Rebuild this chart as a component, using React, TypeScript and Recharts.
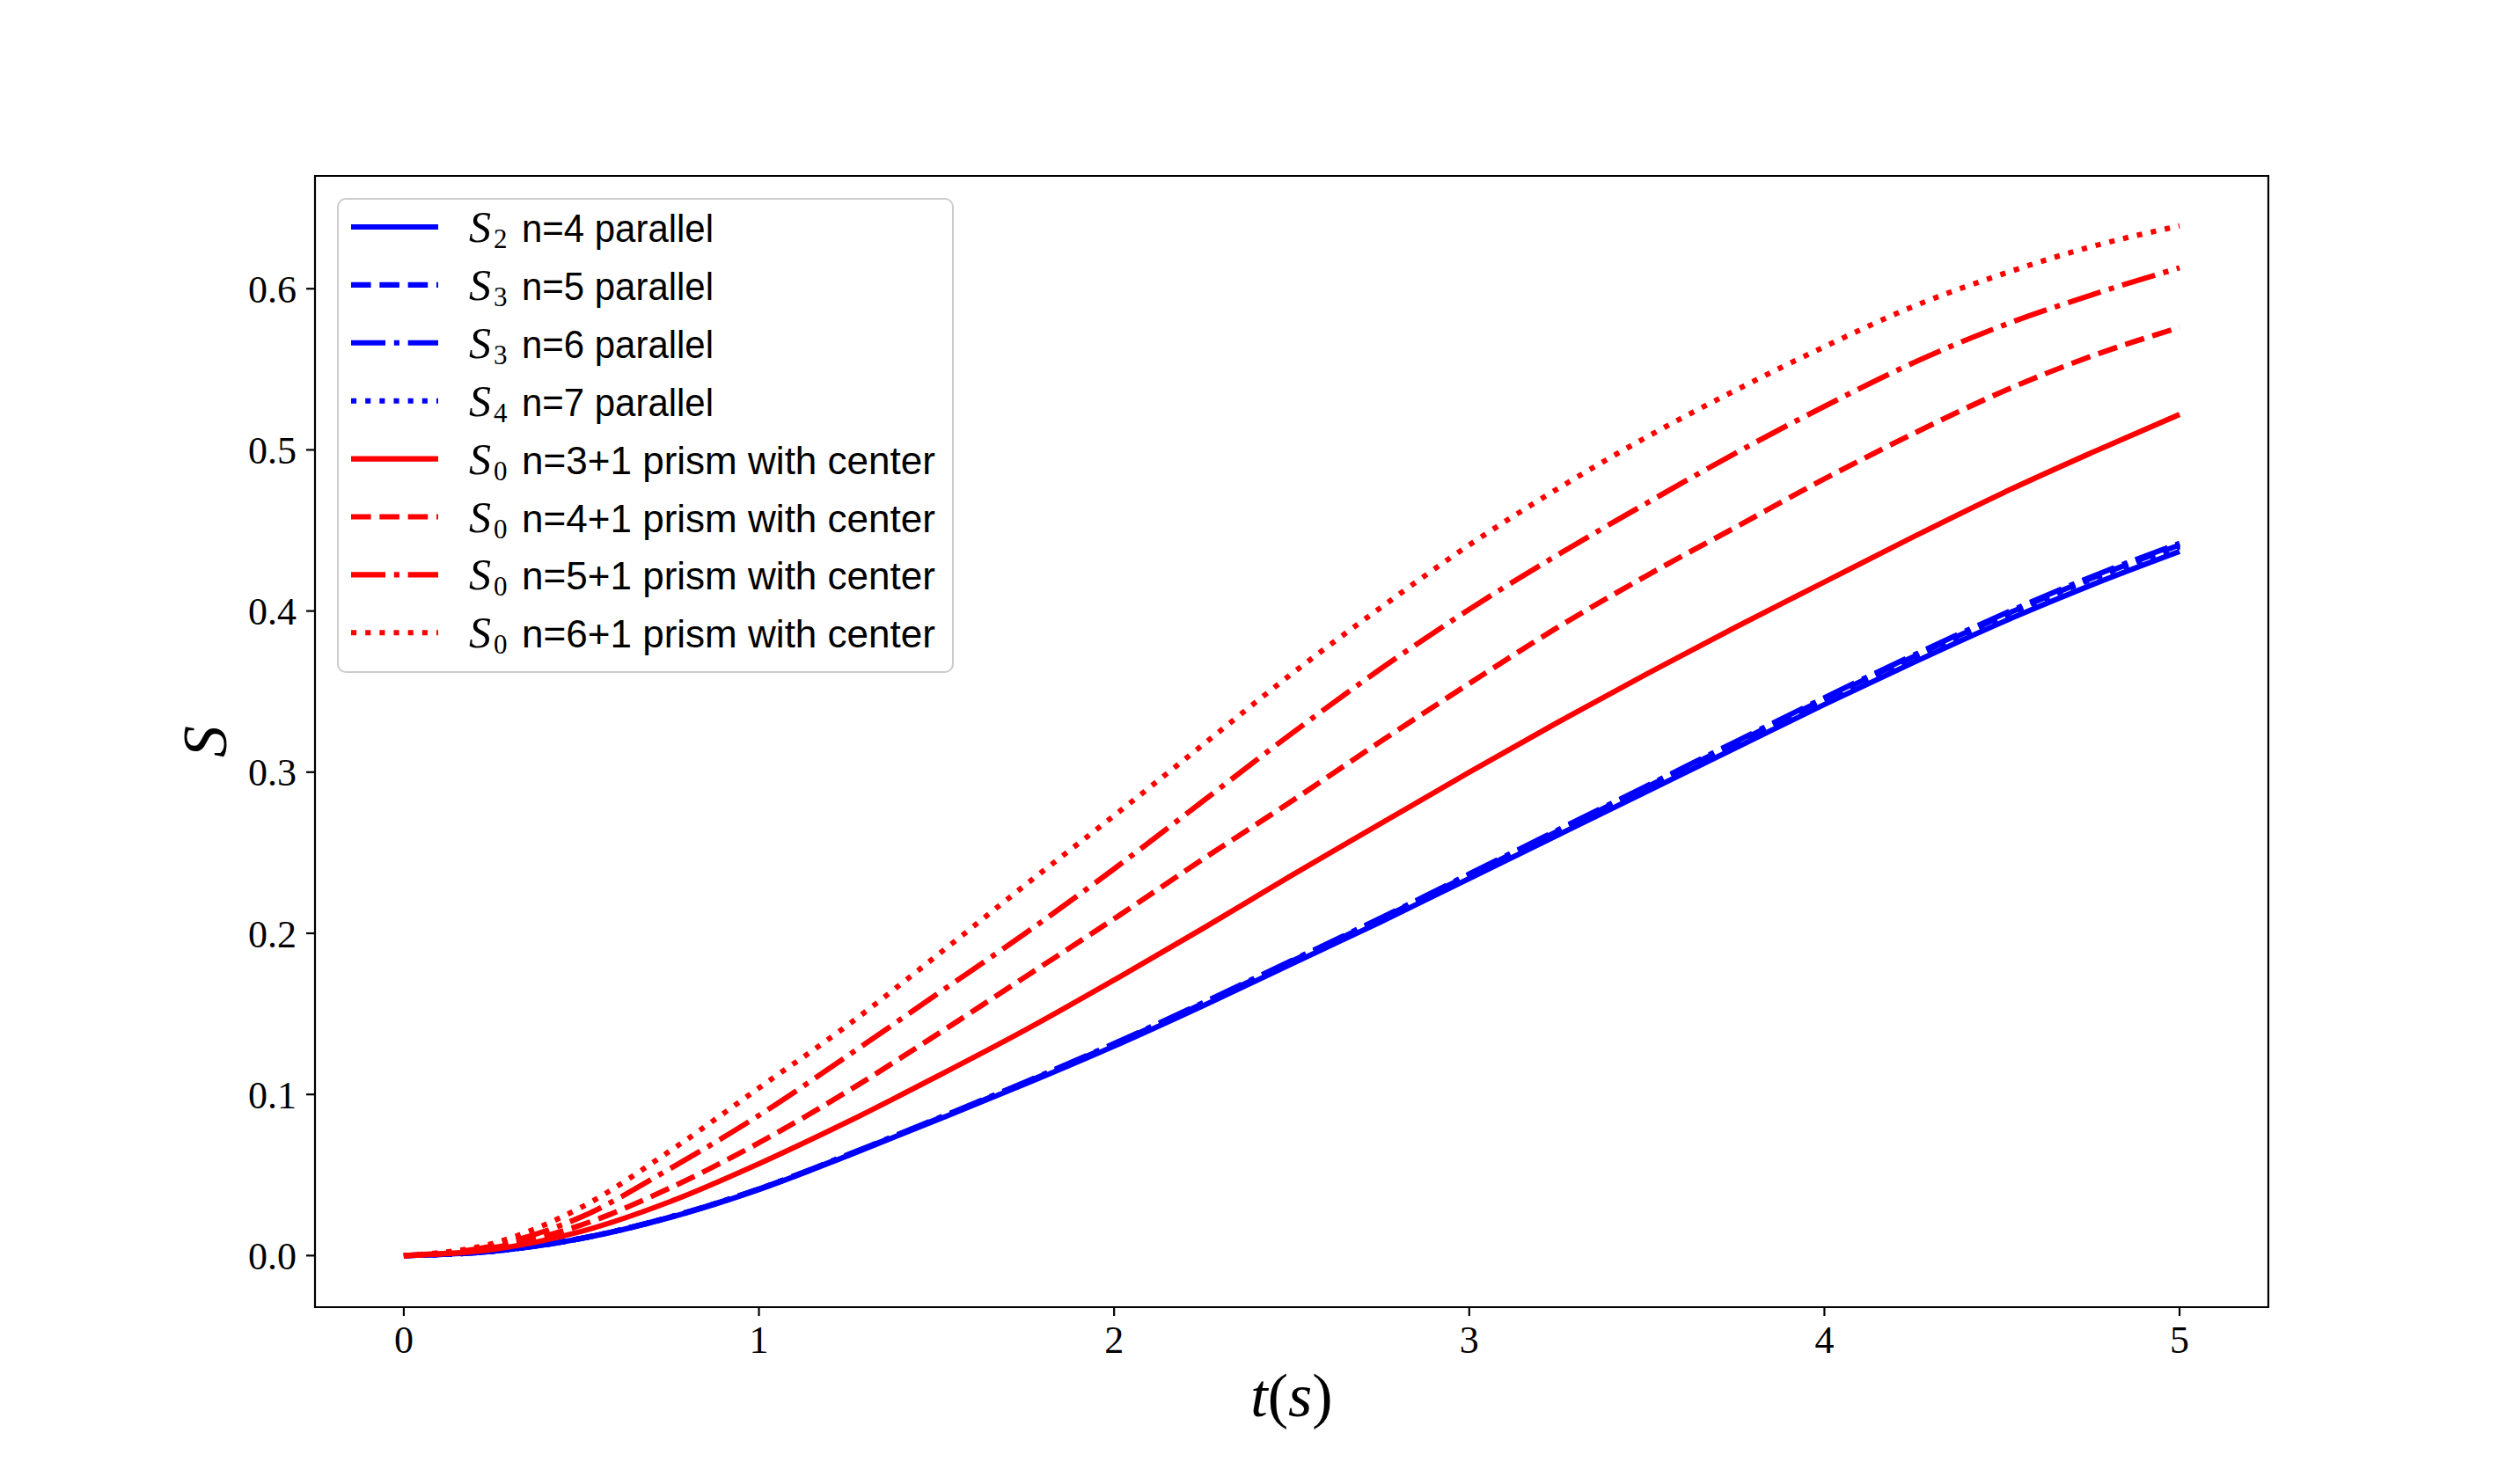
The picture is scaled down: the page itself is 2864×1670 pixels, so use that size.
import { LineChart, Line, XAxis, YAxis, ReferenceArea, Legend, Label } from 'recharts';

// time axis (s)
const tValues = [0, 0.25, 0.5, 0.75, 1, 1.25, 1.5, 1.75, 2, 2.25, 2.5, 2.75, 3, 3.25, 3.5, 3.75, 4, 4.25, 4.5, 4.75, 5];

// parallel configurations (blue)
const s2n4 = [0, 0.0027, 0.0106, 0.0237, 0.041, 0.062, 0.084, 0.1065, 0.13, 0.155, 0.181, 0.207, 0.234, 0.261, 0.288, 0.315, 0.342, 0.368, 0.393, 0.416, 0.437];
const s3n5 = [0, 0.0027, 0.0107, 0.0239, 0.0413, 0.0624, 0.0846, 0.1073, 0.1312, 0.1564, 0.1826, 0.2089, 0.2362, 0.2635, 0.2908, 0.3181, 0.3454, 0.3716, 0.3968, 0.4201, 0.441];
const s3n6 = [0, 0.0027, 0.0107, 0.024, 0.0414, 0.0626, 0.0849, 0.1077, 0.1316, 0.1569, 0.1831, 0.2094, 0.2368, 0.2642, 0.2915, 0.3189, 0.3462, 0.3725, 0.3977, 0.4211, 0.442];
const s4n7 = [0, 0.0027, 0.0107, 0.0238, 0.0412, 0.0623, 0.0845, 0.1071, 0.131, 0.156, 0.1822, 0.2085, 0.2357, 0.263, 0.2902, 0.3175, 0.3448, 0.371, 0.3962, 0.4195, 0.44];

// prism with center (red)
const s0n3 = [0, 0.0038, 0.015, 0.0335, 0.057, 0.083, 0.111, 0.14, 0.171, 0.203, 0.236, 0.268, 0.3, 0.331, 0.361, 0.39, 0.418, 0.446, 0.473, 0.498, 0.522];
const s0n4 = [0, 0.0048, 0.019, 0.042, 0.07, 0.102, 0.137, 0.173, 0.209, 0.246, 0.282, 0.319, 0.355, 0.39, 0.422, 0.452, 0.482, 0.51, 0.536, 0.558, 0.576];
const s0n5 = [0, 0.006, 0.024, 0.054, 0.087, 0.124, 0.162, 0.2, 0.24, 0.282, 0.324, 0.364, 0.401, 0.435, 0.467, 0.498, 0.527, 0.554, 0.577, 0.596, 0.613];
const s0n6 = [0, 0.0075, 0.03, 0.065, 0.104, 0.143, 0.186, 0.23, 0.273, 0.317, 0.361, 0.402, 0.441, 0.476, 0.508, 0.537, 0.564, 0.589, 0.609, 0.626, 0.639];

const xTicks = [0, 1, 2, 3, 4, 5];
const yTicks = [0, 0.1, 0.2, 0.3, 0.4, 0.5, 0.6];

// matplotlib-style dash patterns, scaled by line width
const LW = 6.1;
const DASHED = `${3.7 * LW} ${1.6 * LW}`;
const DASHDOT = `${6.4 * LW} ${1.6 * LW} ${LW} ${1.6 * LW}`;
const DOTTED = `${LW} ${1.65 * LW}`;

const series = [
  { key: 's2n4', values: s2n4, color: '#0000ff', dash: undefined, sub: '2', text: 'n=4 parallel' },
  { key: 's3n5', values: s3n5, color: '#0000ff', dash: DASHED, sub: '3', text: 'n=5 parallel' },
  { key: 's3n6', values: s3n6, color: '#0000ff', dash: DASHDOT, sub: '3', text: 'n=6 parallel' },
  { key: 's4n7', values: s4n7, color: '#0000ff', dash: DOTTED, sub: '4', text: 'n=7 parallel' },
  { key: 's0n3', values: s0n3, color: '#ff0000', dash: undefined, sub: '0', text: 'n=3+1 prism with center' },
  { key: 's0n4', values: s0n4, color: '#ff0000', dash: DASHED, sub: '0', text: 'n=4+1 prism with center' },
  { key: 's0n5', values: s0n5, color: '#ff0000', dash: DASHDOT, sub: '0', text: 'n=5+1 prism with center' },
  { key: 's0n6', values: s0n6, color: '#ff0000', dash: DOTTED, sub: '0', text: 'n=6+1 prism with center' },
];

const data = tValues.map((t, i) => {
  const row: Record<string, number> = { t };
  series.forEach((s) => {
    row[s.key] = s.values[i];
  });
  return row;
});

const SERIF = '"Liberation Serif", "DejaVu Serif", serif';
const SANS = '"Liberation Sans", "DejaVu Sans", sans-serif';

const W = 2848;
const H = 1650;

function LegendBox() {
  const w = 701;
  const h = 540;
  return (
    <div
      style={{
        width: w,
        height: h,
        boxSizing: 'border-box',
        border: '2.5px solid #cccccc',
        borderRadius: 10,
        background: 'rgba(255,255,255,0.8)',
      }}
    >
      <svg width={w - 5} height={h - 5} style={{ display: 'block' }}>
        {series.map((s, i) => {
          const cy = 31 + 65.9 * i;
          const base = cy + 17;
          return (
            <g key={s.key}>
              <line x1={14} x2={113} y1={cy} y2={cy} stroke={s.color} strokeWidth={LW} strokeDasharray={s.dash} />
              <text x={148} y={base} fontFamily={SERIF} fontStyle="italic" fontSize={50} fill="#000">
                S
              </text>
              <text x={176} y={base + 7} fontFamily={SERIF} fontSize={31} fill="#000">
                {s.sub}
              </text>
              <text
                x={208}
                y={base}
                fontFamily={SANS}
                fontSize={44}
                fill="#000"
                textLength={i < 4 ? 218 : 470}
                lengthAdjust="spacingAndGlyphs"
              >
                {s.text}
              </text>
            </g>
          );
        })}
      </svg>
    </div>
  );
}

export default function App() {
  return (
    <LineChart
      width={W}
      height={H}
      data={data}
      margin={{ top: 192, right: 278, left: 210, bottom: 112 }}
      style={{ fontFamily: SERIF }}
    >
      <XAxis
        dataKey="t"
        type="number"
        domain={[-0.25, 5.25]}
        ticks={xTicks}
        interval={0}
        height={60}
        axisLine={false}
        tickSize={10}
        tickMargin={11}
        tickLine={{ stroke: '#000', strokeWidth: 2.2 }}
        tick={{ fontSize: 44, fontFamily: SERIF, fill: '#000' }}
      >
        <Label
          content={(props: any) => {
            const vb = props.viewBox || {};
            return (
              <text x={vb.x + vb.width / 2} y={vb.y + 124} textAnchor="middle" fontFamily={SERIF} fontSize={70} fill="#000">
                <tspan fontStyle="italic">t</tspan>
                <tspan>(</tspan>
                <tspan fontStyle="italic">s</tspan>
                <tspan>)</tspan>
              </text>
            );
          }}
        />
      </XAxis>
      <YAxis
        type="number"
        domain={[-0.032, 0.67]}
        ticks={yTicks}
        interval={0}
        width={140}
        axisLine={false}
        tickSize={10}
        tickMargin={11}
        tickLine={{ stroke: '#000', strokeWidth: 2.2 }}
        tick={{ fontSize: 44, fontFamily: SERIF, fill: '#000' }}
        tickFormatter={(v: number) => v.toFixed(1)}
      >
        <Label
          content={(props: any) => {
            const vb = props.viewBox || {};
            const cx = vb.x + 15;
            const cy = vb.y + vb.height / 2;
            return (
              <text
                x={cx}
                y={cy}
                transform={`rotate(-90 ${cx} ${cy})`}
                textAnchor="middle"
                dominantBaseline="central"
                fontFamily={SERIF}
                fontStyle="italic"
                fontSize={72}
                fill="#000"
              >
                S
              </text>
            );
          }}
        />
      </YAxis>
      {series.map((s) => (
        <Line
          key={s.key}
          type="monotone"
          dataKey={s.key}
          stroke={s.color}
          strokeWidth={LW}
          strokeDasharray={s.dash}
          strokeLinecap="butt"
          dot={false}
          activeDot={false}
          isAnimationActive={false}
        />
      ))}
      <ReferenceArea
        x1={-0.25}
        x2={5.25}
        y1={-0.032}
        y2={0.67}
        fill="none"
        fillOpacity={0}
        stroke="#000"
        strokeWidth={2.2}
        ifOverflow="visible"
      />
      <Legend
        layout="vertical"
        align="center"
        verticalAlign="middle"
        content={() => <LegendBox />}
        wrapperStyle={{ position: 'absolute', left: 375, top: 217, width: 701, height: 540 }}
      />
    </LineChart>
  );
}
